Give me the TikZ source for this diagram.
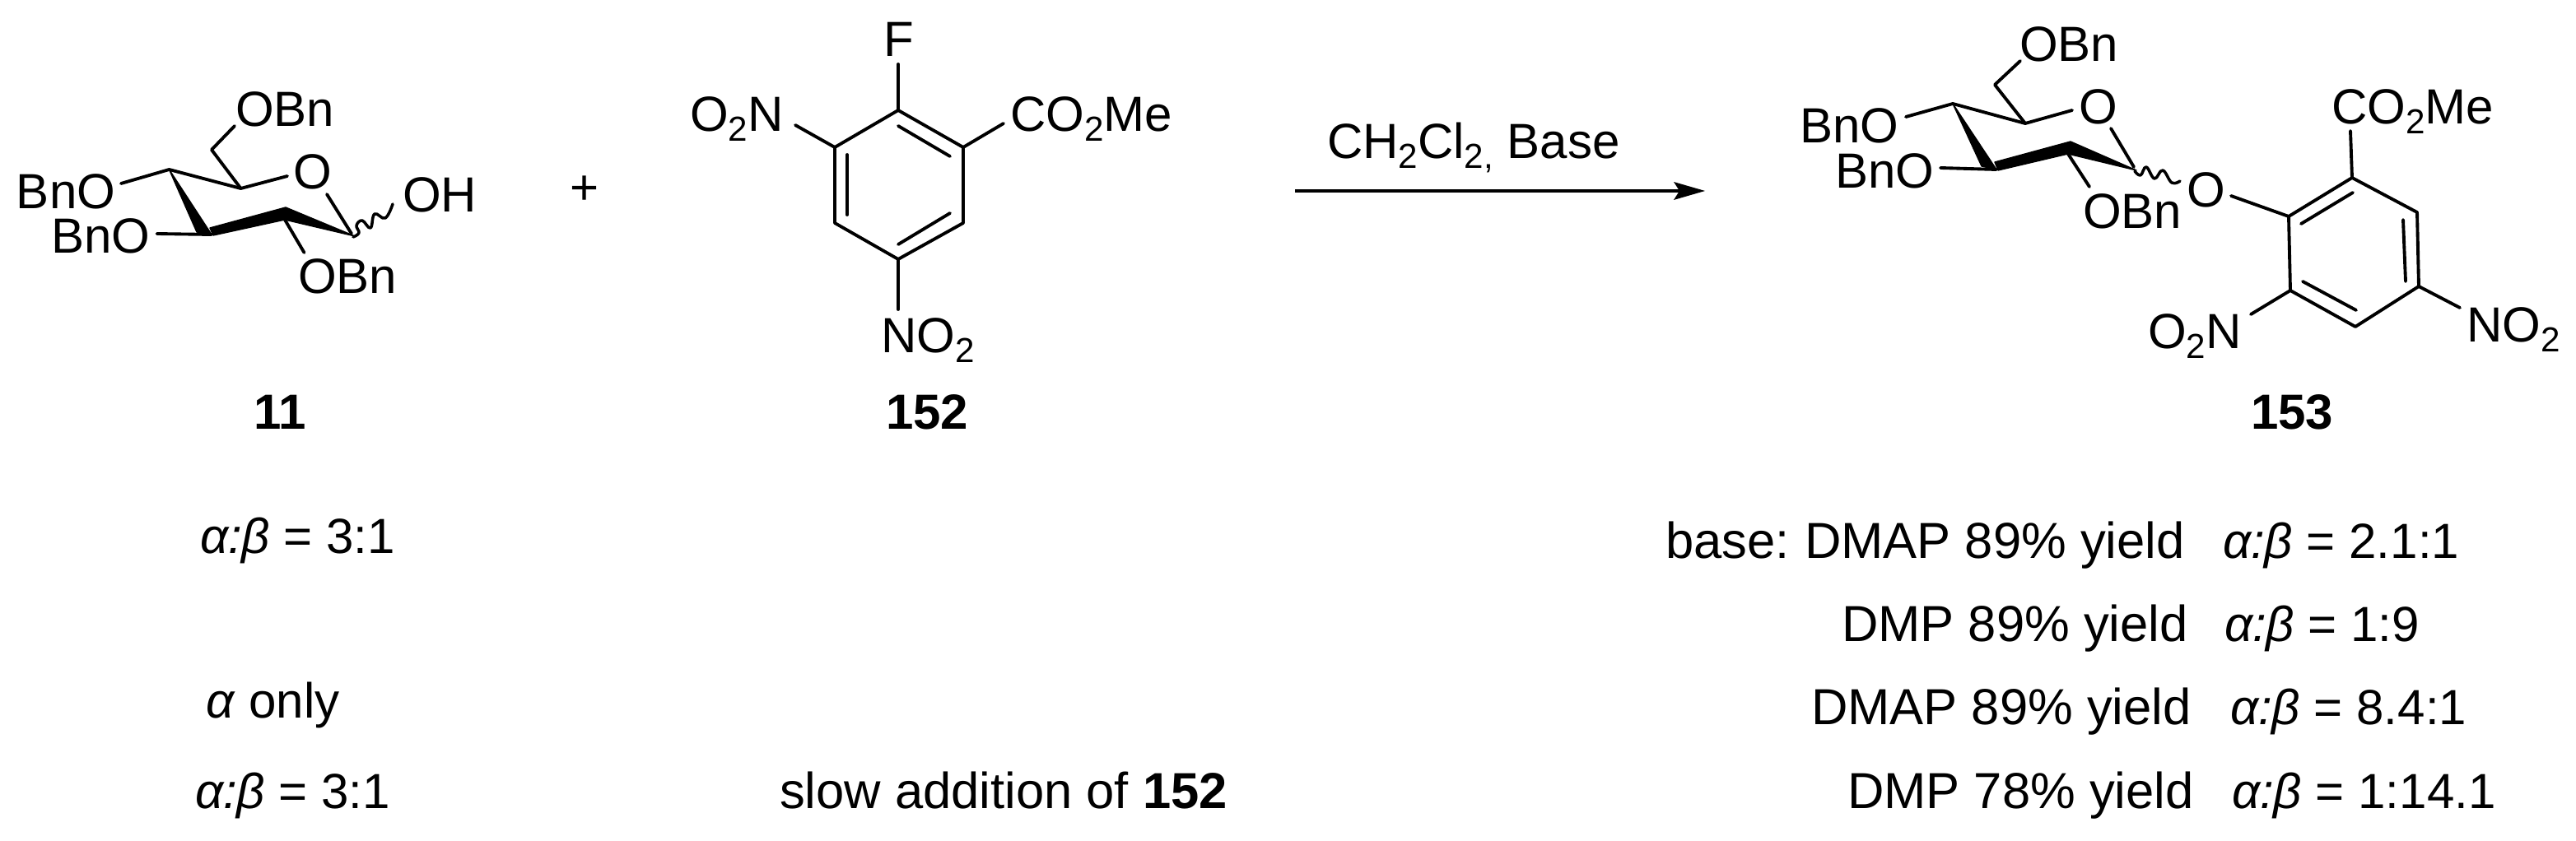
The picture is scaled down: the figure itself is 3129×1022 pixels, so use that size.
\documentclass[tikz,border=0pt]{standalone}
\usepackage{fontspec}
\setmainfont{Liberation Sans}
\usetikzlibrary{calc}
\newcommand\subtwo{\raisebox{-0.19em}{\fontsize{12}{12}\selectfont 2}}
\newcommand\subcomma{\raisebox{-0.19em}{\fontsize{12}{12}\selectfont ,}}
\newcommand\ab{\textit{α:β}}
\tikzset{
  lbl/.style={anchor=base west,inner sep=0pt,outer sep=0pt,font=\fontsize{17.07}{20}\selectfont},
  lblwide/.style={lbl,font=\fontsize{17.5}{20}\selectfont},
  lblbold/.style={lbl,font=\fontsize{17.07}{20}\selectfont\bfseries},
  bond/.style={line width=1.1pt,line cap=round,line join=round},
  solidfill/.style={fill=black,draw=black,line width=0.4pt,line join=round},
  wavy/.style={line width=1pt,line cap=round,line join=round}
}
\begin{document}
\begin{tikzpicture}[x=0.01cm,y=-0.01cm]
\useasboundingbox (0,0) rectangle (3129,1022);
% ---------- compound 11 ----------
\coordinate (aC6) at (257,182);
\coordinate (aOe) at (285,153);
\coordinate (aC5) at (292.5,229);
\coordinate (aOr) at (349,214);
\coordinate (aC4) at (205.5,206);
\coordinate (aO4) at (147,223);
\coordinate (aW1) at (239,282);
\coordinate (aW2) at (257,285);
\coordinate (aO3) at (190.5,284);
\coordinate (aT1) at (255,277);
\coordinate (aT2) at (347,252);
\coordinate (aC1) at (431,287);
\coordinate (aT3) at (346,267);
\coordinate (aT4) at (259,286);
\coordinate (aOs) at (397,236);
\coordinate (aOt) at (427,284);
\coordinate (aO2) at (369.5,307);
\node[lbl] (a1) at (286,154) {OBn};
\node[lbl] (a2) at (356,230) {O};
\node[lbl] (a3) at (20,254) {BnO};
\node[lbl] (a4) at (62,308) {BnO};
\node[lbl] (a5) at (362,357) {OBn};
\node[lbl] (a6) at (489,258) {OH};
\draw[bond] (aOe) -- (aC6) -- (aC5) -- (aOr);
\draw[bond] (aO4) -- (aC4) -- (aC5);
\draw[bond] (aO3) -- (aW2);
\draw[bond] (aOs) -- (aOt);
\draw[bond] (aT3) -- (aO2);
\draw[solidfill] (aC4) -- (aW1) -- (aW2) -- cycle;
\draw[solidfill] (aT1) -- (aT2) -- (aC1) -- (aT3) -- (aT4) -- cycle;
\draw[wavy] plot[smooth,tension=0.7] coordinates {(429,288) (436,283) (433,274) (440,268) (450,277) (455,260) (468,265) (477,248)};
\node[lblbold] (n11) at (308,522) {11};
\node[lbl] (plus) at (692,249) {+};
% ---------- compound 152 ----------
\coordinate (b1) at (1091,134);
\coordinate (b2) at (1170,179);
\coordinate (b3) at (1170,271);
\coordinate (b4) at (1091,315);
\coordinate (b5) at (1014,271);
\coordinate (b6) at (1014,179);
\coordinate (bF) at (1091,78);
\coordinate (bN1) at (966,152);
\coordinate (bE) at (1219,150);
\coordinate (bN2) at (1091,376);
\coordinate (bi1) at (1091,153);
\coordinate (bi2) at (1154,190);
\coordinate (bi3) at (1154,259);
\coordinate (bi4) at (1091,297);
\coordinate (bi5) at (1029,261);
\coordinate (bi6) at (1029,188);
\node[lbl] (bl1) at (1073,69) {F};
\node[lbl] (bl2) at (838,160) {O\subtwo N};
\node[lbl] (bl3) at (1227,160) {CO\subtwo Me};
\node[lbl] (bl4) at (1070,429) {NO\subtwo};
\draw[bond] (b1) -- (b2) -- (b3) -- (b4) -- (b5) -- (b6) -- cycle;
\draw[bond] (b1) -- (bF);
\draw[bond] (b6) -- (bN1);
\draw[bond] (b2) -- (bE);
\draw[bond] (b4) -- (bN2);
\draw[bond] (bi1) -- (bi2);
\draw[bond] (bi3) -- (bi4);
\draw[bond] (bi5) -- (bi6);
\node[lblbold] (n152) at (1076,522) {152};
% ---------- arrow ----------
\coordinate (arL) at (1573,232);
\coordinate (arR) at (2040,232);
\coordinate (arT) at (2071,232);
\coordinate (arU) at (2033,221);
\coordinate (arD) at (2033,243);
\draw[line width=1.1pt] (arL) -- (arR);
\fill (arT) -- (arU) -- (arR) -- (arD) -- cycle;
\node[lbl] (cond) at (1612,193) {CH\subtwo Cl\subtwo\subcomma{} Base};
% ---------- compound 153 ----------
\coordinate (cC6) at (2423,103);
\coordinate (cOe) at (2454,74);
\coordinate (cC5) at (2460,150);
\coordinate (cOr) at (2517,134);
\coordinate (cC4) at (2372,126);
\coordinate (cO4) at (2315,142);
\coordinate (cW1) at (2407,202);
\coordinate (cW2) at (2425,206);
\coordinate (cO3) at (2357,204);
\coordinate (cT1) at (2423,197);
\coordinate (cT2) at (2515,172);
\coordinate (cC1) at (2595,207);
\coordinate (cT3) at (2512,187);
\coordinate (cT4) at (2427,207);
\coordinate (cOs) at (2564,156);
\coordinate (cOt) at (2592,203);
\coordinate (cO2) at (2538,227);
\node[lbl] (c1) at (2453,75) {OBn};
\node[lbl] (c2) at (2525,151) {O};
\node[lbl] (c3) at (2186,174) {BnO};
\node[lbl] (c4) at (2229,229) {BnO};
\node[lbl] (c5) at (2530,278) {OBn};
\node[lbl] (c6) at (2656,252) {O};
\draw[bond] (cOe) -- (cC6) -- (cC5) -- (cOr);
\draw[bond] (cO4) -- (cC4) -- (cC5);
\draw[bond] (cO3) -- (cW2);
\draw[bond] (cOs) -- (cOt);
\draw[bond] (cT3) -- (cO2);
\draw[solidfill] (cC4) -- (cW1) -- (cW2) -- cycle;
\draw[solidfill] (cT1) -- (cT2) -- (cC1) -- (cT3) -- (cT4) -- cycle;
\draw[wavy] plot[smooth,tension=0.7] coordinates {(2593,208) (2600,213) (2607,203) (2617,217) (2627,207) (2638,222) (2648,220)};
\coordinate (r1) at (2857,216);
\coordinate (r2) at (2936,258);
\coordinate (r3) at (2938,348);
\coordinate (r4) at (2861,397);
\coordinate (r5) at (2782,353);
\coordinate (r6) at (2780,263);
\coordinate (rE) at (2855,159);
\coordinate (rO) at (2710,238);
\coordinate (rN1) at (2734,382);
\coordinate (rN2) at (2988,374);
\coordinate (ri1) at (2795,272);
\coordinate (ri2) at (2858,234);
\coordinate (ri3) at (2919,267);
\coordinate (ri4) at (2922,342);
\coordinate (ri5) at (2797,342);
\coordinate (ri6) at (2862,377);
\node[lbl] (rl1) at (2832,151) {CO\subtwo Me};
\node[lbl] (rl2) at (2609,424) {O\subtwo N};
\node[lbl] (rl3) at (2996,416) {NO\subtwo};
\draw[bond] (r1) -- (r2) -- (r3) -- (r4) -- (r5) -- (r6) -- cycle;
\draw[bond] (r1) -- (rE);
\draw[bond] (r6) -- (rO);
\draw[bond] (r5) -- (rN1);
\draw[bond] (r3) -- (rN2);
\draw[bond] (ri1) -- (ri2);
\draw[bond] (ri3) -- (ri4);
\draw[bond] (ri5) -- (ri6);
\node[lblbold] (n153) at (2734,522) {153};
% ---------- table ----------
\node[lbl] (t1) at (243,673) {\ab{} = 3:1};
\node[lbl] (t2) at (250,873) {\textit{α} only};
\node[lbl] (t3) at (237,982) {\ab{} = 3:1};
\node[lblwide] (t4) at (947,982) {slow addition of \textbf{152}};
\node[lblwide] (y1) at (2023,679) {base:\hspace{-0.07em} DMAP 89\% yield};
\node[lblwide] (y2) at (2237,780) {DMP 89\% yield};
\node[lblwide] (y3) at (2200,881) {DMAP 89\% yield};
\node[lblwide] (y4) at (2244,982) {DMP 78\% yield};
\node[lbl] (r1t) at (2700,679) {\ab{} = 2.1:1};
\node[lbl] (r2t) at (2702,780) {\ab{} = 1:9};
\node[lbl] (r3t) at (2709,881) {\ab{} = 8.4:1};
\node[lbl] (r4t) at (2711,982) {\ab{} = 1:14.1};
\end{tikzpicture}
\end{document}
